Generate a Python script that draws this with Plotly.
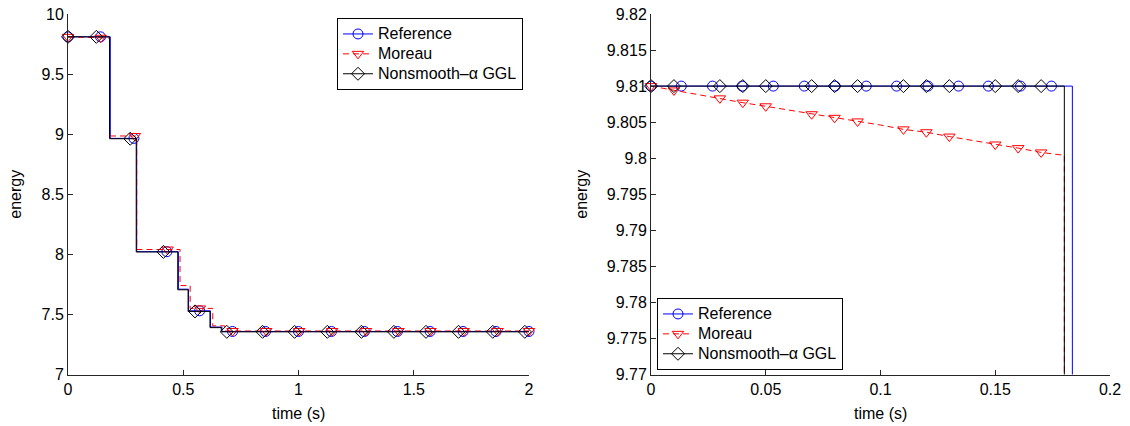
import bisect
import numpy as np
import plotly.graph_objects as go

# ---------------- data ----------------
T_END = 2.0

# Reference solution: piecewise-constant energy (jump times, levels)
REF_JUMP_T = [0.1836, 0.298, 0.479, 0.523, 0.618, 0.668]
REF_LEVELS = [9.81, 8.965, 8.022, 7.71, 7.53, 7.395, 7.358]

# Nonsmooth-alpha GGL
GGL_JUMP_T = [0.1801, 0.296, 0.476, 0.521, 0.616, 0.665]
GGL_LEVELS = [9.81, 8.962, 8.02, 7.705, 7.525, 7.39, 7.355]

# Moreau: energy drifts during first flight, then piecewise levels
MOREAU_FLIGHT_T = [0.00, 0.01, 0.02, 0.03, 0.04, 0.05, 0.06, 0.07, 0.08, 0.09,
                   0.10, 0.11, 0.12, 0.13, 0.14, 0.15, 0.16, 0.17, 0.18]
MOREAU_FLIGHT_E = [9.8100, 9.8094, 9.8089, 9.8083, 9.8077, 9.8072, 9.8067, 9.8061,
                   9.8056, 9.8051, 9.8046, 9.8040, 9.8036, 9.8030, 9.8025, 9.8019,
                   9.8014, 9.8008, 9.8004]
MOREAU_JUMP_T = [0.1801, 0.298, 0.486, 0.530, 0.628, 0.680]
MOREAU_LEVELS = [8.985, 8.04, 7.74, 7.55, 7.405, 7.362]

# marker times (left panel)
REF_MARK_L = [0, 0.141, 0.286, 0.429, 0.571, 0.714, 0.857, 1.0, 1.143, 1.286,
              1.429, 1.571, 1.714, 1.857, 2.0]
MOREAU_MARK_L = [0, 0.142, 0.29, 0.432, 0.572, 0.714, 0.86, 1.003, 1.146, 1.293,
                 1.434, 1.573, 1.717, 1.864, 2.0]
GGL_MARK_L = [0, 0.123, 0.27, 0.414, 0.551, 0.689, 0.844, 0.983, 1.125, 1.273,
              1.414, 1.553, 1.694, 1.843, 1.982]

# marker times (right panel, zoom)
REF_MARK_R = [0, 0.0132, 0.0268, 0.0397, 0.0533, 0.0668, 0.0802, 0.0938, 0.107,
              0.1207, 0.134, 0.147, 0.161, 0.1745]
MOREAU_MARK_R = [0, 0.01, 0.03, 0.04, 0.05, 0.07, 0.08, 0.09, 0.11, 0.12, 0.13,
                 0.15, 0.16, 0.17]
GGL_MARK_R = [0, 0.01, 0.03, 0.04, 0.05, 0.07, 0.08, 0.09, 0.11, 0.12, 0.13,
              0.15, 0.16, 0.17]

NAMES = ["Reference", "Moreau", "Nonsmooth–α GGL"]
X_TITLE = "time (s)"
Y_TITLE = "energy"

L_XTICKS = [0, 0.5, 1, 1.5, 2]
L_XTEXT = ["0", "0.5", "1", "1.5", "2"]
L_YTICKS = [7, 7.5, 8, 8.5, 9, 9.5, 10]
L_YTEXT = ["7", "7.5", "8", "8.5", "9", "9.5", "10"]
R_XTICKS = [0, 0.05, 0.1, 0.15, 0.2]
R_XTEXT = ["0", "0.05", "0.1", "0.15", "0.2"]
R_YTICKS = [9.77, 9.775, 9.78, 9.785, 9.79, 9.795, 9.8, 9.805, 9.81, 9.815, 9.82]
R_YTEXT = ["9.77", "9.775", "9.78", "9.785", "9.79", "9.795", "9.8", "9.805",
           "9.81", "9.815", "9.82"]


# ---------------- helpers ----------------
def step_poly(jumps, levels, t_end):
    x, y = [0.0], [levels[0]]
    for i, j in enumerate(jumps):
        x += [j, j]
        y += [levels[i], levels[i + 1]]
    x.append(t_end)
    y.append(levels[-1])
    return x, y


def step_val(jumps, levels, t):
    return levels[bisect.bisect_right(jumps, t)]


def moreau_poly():
    x, y = list(MOREAU_FLIGHT_T), list(MOREAU_FLIGHT_E)
    prev = MOREAU_FLIGHT_E[-1]
    for j, lv in zip(MOREAU_JUMP_T, MOREAU_LEVELS):
        x += [j, j]
        y += [prev, lv]
        prev = lv
    x.append(T_END)
    y.append(prev)
    return x, y


def moreau_val(t):
    if t <= MOREAU_FLIGHT_T[-1]:
        return float(np.interp(t, MOREAU_FLIGHT_T, MOREAU_FLIGHT_E))
    return step_val(MOREAU_JUMP_T, [MOREAU_FLIGHT_E[-1]] + MOREAU_LEVELS, t)


ref_x, ref_y = step_poly(REF_JUMP_T, REF_LEVELS, T_END)
ggl_x, ggl_y = step_poly(GGL_JUMP_T, GGL_LEVELS, T_END)
mor_x, mor_y = moreau_poly()

BLUE, RED, BLACK = "#0000ff", "#ff0000", "#000000"
AX = "#262626"
FONT = "Liberation Sans, Arial, sans-serif"
FS = 16

# body margin is removed by a post script, figure fills the 1130x426 window
W, H = 1130, 426


def fx(px):
    return px / W


def fy(py):
    return 1 - py / H


styles = [
    dict(color=BLUE, dash="solid", symbol="circle-open", size=10),
    dict(color=RED, dash="6px,4px", symbol="triangle-down-open", size=10),
    dict(color=BLACK, dash="solid", symbol="diamond-open", size=10),
]

fig = go.Figure()

panels = [
    ("x", "y", "legend", [REF_MARK_L, MOREAU_MARK_L, GGL_MARK_L]),
    ("x2", "y2", "legend2", [REF_MARK_R, MOREAU_MARK_R, GGL_MARK_R]),
]

for xa, ya, leg, marks in panels:
    polys = [(ref_x, ref_y), (mor_x, mor_y), (ggl_x, ggl_y)]
    valfns = [lambda t: step_val(REF_JUMP_T, REF_LEVELS, t),
              moreau_val,
              lambda t: step_val(GGL_JUMP_T, GGL_LEVELS, t)]
    for k in range(3):
        st = styles[k]
        px, py = polys[k]
        fig.add_trace(go.Scatter(
            x=px, y=py, mode="lines", xaxis=xa, yaxis=ya, showlegend=False,
            line=dict(color=st["color"], width=1, dash=st["dash"]),
            hoverinfo="skip"))
        mx = marks[k]
        my = [valfns[k](t) for t in mx]
        fig.add_trace(go.Scatter(
            x=mx, y=my, mode="markers", xaxis=xa, yaxis=ya, showlegend=False,
            cliponaxis=False,
            marker=dict(symbol=st["symbol"], size=st["size"], color=st["color"],
                        line=dict(width=1, color=st["color"]))))
    for k in range(3):
        st = styles[k]
        fig.add_trace(go.Scatter(
            x=[None], y=[None], mode="lines+markers", xaxis=xa, yaxis=ya,
            name=f'<span style="font-size:{FS}px">{NAMES[k]}</span>',
            legend=leg, showlegend=True,
            line=dict(color=st["color"], width=1, dash=st["dash"]),
            marker=dict(symbol=st["symbol"], size=st["size"], color=st["color"],
                        line=dict(width=1, color=st["color"]))))

axis_common = dict(
    ticks="inside", ticklen=5, tickwidth=1, tickcolor=AX,
    showline=True, linecolor=AX, linewidth=1, mirror=False,
    showgrid=False, zeroline=False, automargin=False,
    ticklabeloverflow="allow",
    tickfont=dict(family=FONT, size=FS, color="#000"),
)
title_font = dict(family=FONT, size=FS, color="#000")

Y0, Y1 = fy(374.5), fy(14)
LEG_FONT = dict(family=FONT, size=13, color="#000")
LX = (fx(68), fx(529))
RX = (fx(651), fx(1110))

fig.update_layout(
    width=W, height=H,
    margin=dict(l=0, r=0, t=0, b=0, autoexpand=False),
    paper_bgcolor="white", plot_bgcolor="white",
    font=dict(family=FONT, size=FS, color="#000"),
    xaxis=dict(domain=list(LX), range=[0, 2], anchor="y",
               tickvals=L_XTICKS, ticktext=L_XTEXT, **axis_common),
    yaxis=dict(domain=[Y0, Y1], range=[7, 10], anchor="x",
               tickvals=L_YTICKS, ticktext=L_YTEXT,
               title=dict(text=Y_TITLE, font=title_font),
               **axis_common),
    xaxis2=dict(domain=list(RX), range=[0, 0.2], anchor="y2",
                tickvals=R_XTICKS, ticktext=R_XTEXT, **axis_common),
    yaxis2=dict(domain=[Y0, Y1], range=[9.77, 9.82], anchor="x2",
                tickvals=R_YTICKS, ticktext=R_YTEXT,
                title=dict(text=Y_TITLE, font=title_font),
                **axis_common),
    legend=dict(x=fx(337), y=fy(18), xanchor="left", yanchor="top",
                bgcolor="white", bordercolor="#000", borderwidth=1,
                font=LEG_FONT, tracegroupgap=0),
    legend2=dict(x=fx(657), y=fy(370), xanchor="left", yanchor="bottom",
                 bgcolor="white", bordercolor="#000", borderwidth=1,
                 font=LEG_FONT, tracegroupgap=0),
)

for dom in (LX, RX):
    fig.add_annotation(text=X_TITLE, xref="paper", yref="paper",
                       x=(dom[0] + dom[1]) / 2, y=fy(413), xanchor="center",
                       yanchor="middle", showarrow=False, font=title_font)

fig.write_html("out.html",
               config={"displayModeBar": False},
               post_script="document.body.style.margin='0';"
                           "document.body.style.overflow='hidden';")
